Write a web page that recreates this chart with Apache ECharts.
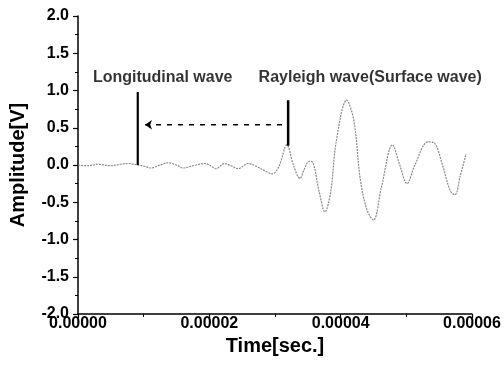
<!DOCTYPE html>
<html><head><meta charset="utf-8">
<script src="https://cdn.jsdelivr.net/npm/echarts@6/dist/echarts.min.js"></script>
<style>html,body{margin:0;padding:0;background:#fff}#c{width:504px;height:366px}</style>
</head><body><div id="c"></div>
<script>
// Waveform samples: time [s] and amplitude [V]
const timeSec = [0,1.5e-6,3e-6,5e-6,6.5e-6,7.6e-6,9.1e-6,10.2e-6,11.1e-6,12.5e-6,13.7e-6,15e-6,16e-6,17.5e-6,19.3e-6,20.2e-6,21e-6,22.3e-6,23.3e-6,24.4e-6,25.9e-6,27e-6,28.5e-6,29.6e-6,30.6e-6,31.8e-6,32.8e-6,33.8e-6,34.5e-6,35.2e-6,35.8e-6,36.7e-6,37.6e-6,38.5e-6,39.3e-6,40.9e-6,42e-6,43e-6,44e-6,45e-6,46.2e-6,47.9e-6,49e-6,50.1e-6,51.3e-6,53.3e-6,54.2e-6,55.5e-6,56.7e-6,57.4e-6,58.2e-6,59.1e-6];
const amplitude = [0.0,-0.01,0.01,-0.01,0.01,0.02,0.0,-0.02,-0.04,0.0,0.03,0.0,-0.04,-0.01,0.02,-0.01,-0.05,0.02,-0.01,-0.05,0.02,-0.01,-0.08,-0.12,-0.02,0.27,0.0,-0.18,-0.05,0.05,0.03,-0.35,-0.63,-0.35,0.3,0.87,0.6,-0.2,-0.6,-0.74,-0.3,0.27,0.0,-0.25,0.0,0.31,0.3,0.0,-0.35,-0.40,-0.15,0.15];
// Annotation markers
const longMarker = [[9.1e-6, 0.0], [9.1e-6, 0.98]];
const rayMarker = [[32.0e-6, 0.26], [32.0e-6, 0.87]];
const arrowLine = [[10.2e-6, 0.54], [31.4e-6, 0.54]];
const labels = [
  {name: 'Longitudinal wave', value: [12.9e-6, 1.17]},
  {name: 'Rayleigh wave(Surface wave)', value: [44.5e-6, 1.17]}
];
const xTicks = [0, 0.00002, 0.00004, 0.00006];
const yTicks = [-2, -1.5, -1, -0.5, 0, 0.5, 1, 1.5, 2];

const font = 'Liberation Sans, Arial, sans-serif';
const chart = echarts.init(document.getElementById('c'), null, {renderer: 'canvas'});
chart.setOption({
  animation: false,
  backgroundColor: '#fff',
  grid: {left: 78, right: 32, top: 16, bottom: 52},
  xAxis: {
    type: 'value', min: xTicks[0], max: xTicks[xTicks.length - 1], interval: 0.00002,
    name: 'Time[sec.]', nameLocation: 'middle', nameGap: 18,
    nameTextStyle: {fontFamily: font, fontWeight: 'bold', fontSize: 20, color: '#000'},
    axisLine: {show: true, onZero: false, lineStyle: {color: '#000', width: 1.5}},
    axisTick: {show: true, inside: false, length: 4, lineStyle: {color: '#000', width: 1.2}},
    minorTick: {show: true, splitNumber: 2, length: 3, lineStyle: {color: '#000'}},
    axisLabel: {fontFamily: font, fontWeight: 'bold', fontSize: 16, color: '#000', margin: 2,
      formatter: v => v.toFixed(5)},
    splitLine: {show: false}
  },
  yAxis: {
    type: 'value', min: yTicks[0], max: yTicks[yTicks.length - 1], interval: 0.5,
    name: 'Amplitude[V]', nameLocation: 'middle', nameGap: 50,
    nameTextStyle: {fontFamily: font, fontWeight: 'bold', fontSize: 20, color: '#000'},
    axisLine: {show: true, onZero: false, lineStyle: {color: '#000', width: 1.5}},
    axisTick: {show: true, inside: false, length: 5, lineStyle: {color: '#000', width: 1.2}},
    minorTick: {show: true, splitNumber: 2, length: 3, lineStyle: {color: '#000'}},
    axisLabel: {fontFamily: font, fontWeight: 'bold', fontSize: 16, color: '#000', margin: 9,
      formatter: v => v.toFixed(1)},
    splitLine: {show: false}
  },
  series: [
    {
      type: 'line', data: timeSec.map((t, i) => [t, amplitude[i]]),
      showSymbol: false, smooth: 0.35,
      lineStyle: {color: '#8a8a8a', width: 1.2, type: [2, 1]}
    },
    {
      type: 'line', data: longMarker, showSymbol: false,
      lineStyle: {color: '#000', width: 2.2}
    },
    {
      type: 'line', data: rayMarker, showSymbol: false,
      lineStyle: {color: '#000', width: 2.5}
    },
    {
      type: 'line', data: arrowLine, showSymbol: false,
      lineStyle: {color: '#000', width: 1.5, type: [5, 6]},
      markLine: {
        silent: true, symbol: ['arrow', 'none'], symbolSize: 7, label: {show: false},
        lineStyle: {color: '#000', width: 0.01, type: 'solid'},
        data: [[{coord: arrowLine[0]}, {coord: arrowLine[1]}]]
      }
    },
    {
      type: 'scatter', data: labels, symbolSize: 0,
      label: {show: true, position: 'inside', formatter: p => p.name,
        fontFamily: font, fontWeight: 'bold', fontSize: 16, color: '#000'}
    }
  ]
});
</script></body></html>
